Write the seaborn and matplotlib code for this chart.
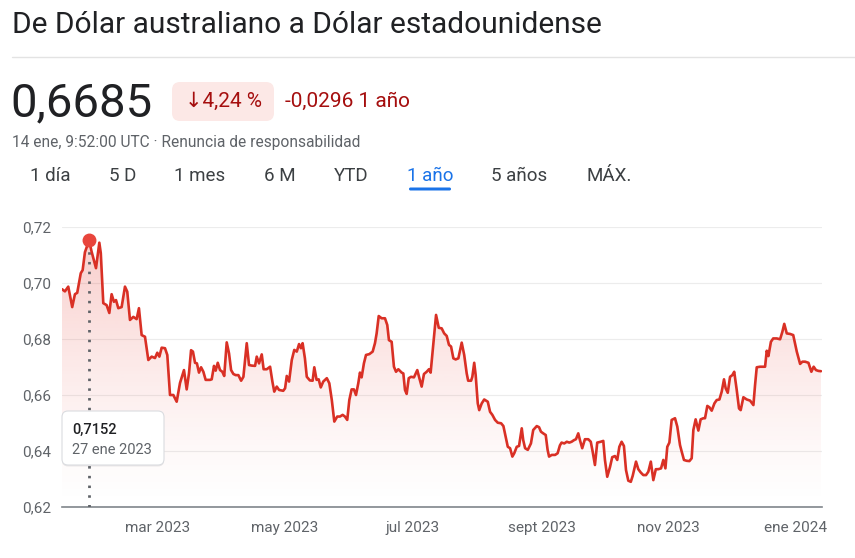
#Grafico AUD/USD 1 año estilo Google Finance
import numpy as np
import pandas as pd
import matplotlib
matplotlib.use('Agg')
import matplotlib.pyplot as plt
from matplotlib.patches import FancyBboxPatch
from matplotlib.lines import Line2D
from matplotlib.transforms import Affine2D
import seaborn as sns

#datos (dias desde el 14 ene 2023)
inicio = pd.Timestamp('2023-01-14')
dias = [0, 1.4, 3.0, 4.9, 6.2, 7.3, 9.0, 9.9, 11.0, 13.0, 14.2, 16.3, 17.9, 18.6, 19.8, 21.4,
        22.7, 23.8, 24.9, 25.9, 27.0, 28.6, 30.2, 31.3, 32.6, 34.2, 35.8, 36.9, 38.2, 39.8,
        41.4, 43.0, 44.6, 45.7, 46.7, 47.8, 49.4, 50.5, 51.8, 53.4, 55.0, 56.6, 58.5, 59.8,
        60.9, 61.9, 62.8, 63.8, 64.7, 65.7, 66.7, 67.8, 68.9, 71.0, 71.8, 72.9, 73.7, 74.7,
        75.8, 76.9, 77.8, 79.0, 80.1, 81.1, 82.2, 83.3, 84.6, 85.9, 87.0, 88.6, 89.7, 91.0,
        92.6, 93.4, 94.5, 95.8, 96.7, 98.2, 99.8, 100.9, 101.8, 103.0, 104.1, 106.1, 107.0,
        107.8, 108.9, 110.2, 111.4, 112.6, 113.7, 114.6, 115.4, 116.5, 117.4, 118.9, 120.2,
        121.0, 122.1, 123.1, 124.1, 125.3, 127.0, 128.2, 129.4, 130.6, 132.0, 133.3, 134.6,
        135.7, 136.8, 137.8, 138.9, 140.0, 141.0, 142.1, 142.9, 143.7, 144.8, 145.8, 147.4,
        149.0, 150.1, 150.9, 151.9, 153.3, 154.9, 156.0, 156.8, 158.1, 159.2, 160.2, 161.3,
        162.9, 163.7, 164.5, 165.3, 166.3, 167.4, 168.8, 170.4, 171.4, 172.5, 173.6, 174.9,
        176.0, 176.8, 178.1, 179.4, 180.7, 182.1, 183.3, 184.5, 185.6, 186.6, 187.7, 188.8,
        190.1, 191.7, 192.9, 194.1, 194.8, 196.2, 196.8, 197.7, 198.4, 199.4, 200.1, 201.3,
        202.5, 204.2, 205.3, 206.4, 207.7, 209.0, 210.6, 211.7, 212.8, 213.8, 214.9, 216.0,
        216.9, 218.1, 219.2, 220.5, 221.2, 222.1, 223.4, 224.9, 226.0, 227.7, 228.8, 229.7,
        230.8, 232.0, 232.9, 233.6, 234.9, 236.5, 237.7, 238.8, 239.6, 240.9, 242.1, 243.3,
        244.4, 245.6, 246.5, 247.6, 248.4, 249.5, 250.8, 252.4, 253.6, 254.5, 255.6, 256.7,
        258.4, 259.6, 260.4, 261.5, 262.8, 263.9, 265.2, 266.3, 267.3, 268.4, 269.5, 270.5,
        271.6, 272.8, 273.7, 275.3, 276.4, 277.6, 278.8, 280.1, 281.2, 282.4, 283.6, 284.8,
        286.0, 287.3, 288.4, 289.4, 290.3, 291.3, 292.4, 294.0, 295.1, 296.4, 297.2, 298.3,
        299.6, 300.9, 302.0, 302.8, 303.9, 305.2, 306.3, 307.6, 308.4, 309.5, 310.5, 311.6,
        312.9, 314.0, 315.3, 316.4, 317.5, 318.3, 319.3, 320.4, 321.5, 322.4, 323.6, 324.7,
        325.5, 326.8, 328.4, 330.0, 331.6, 332.4, 333.2, 334.8, 337.2, 338.0, 338.8, 340.0,
        341.1, 342.8, 344.4, 345.5, 346.4, 347.6, 349.2, 350.7, 352.4, 354.0, 355.1, 356.4,
        358.0, 359.4, 360.5, 361.6, 362.8, 364.0]
valores = [0.6978, 0.6970, 0.6987, 0.6914, 0.6960, 0.6965, 0.7035, 0.7046, 0.7110, 0.7152,
           0.7112, 0.7053, 0.7144, 0.7107, 0.6928, 0.6921, 0.6893, 0.6960, 0.6933, 0.6939,
           0.6910, 0.6914, 0.6987, 0.6969, 0.6868, 0.6879, 0.6871, 0.6910, 0.6814, 0.6808,
           0.6725, 0.6737, 0.6732, 0.6751, 0.6737, 0.6769, 0.6767, 0.6743, 0.6600, 0.6600,
           0.6576, 0.6643, 0.6689, 0.6620, 0.6677, 0.6760, 0.6755, 0.6715, 0.6713, 0.6680,
           0.6699, 0.6683, 0.6654, 0.6654, 0.6656, 0.6704, 0.6687, 0.6715, 0.6689, 0.6683,
           0.6668, 0.6788, 0.6749, 0.6689, 0.6675, 0.6671, 0.6671, 0.6651, 0.6665, 0.6785,
           0.6707, 0.6705, 0.6704, 0.6737, 0.6713, 0.6745, 0.6692, 0.6692, 0.6701, 0.6648,
           0.6612, 0.6630, 0.6618, 0.6615, 0.6624, 0.6668, 0.6648, 0.6725, 0.6761, 0.6755,
           0.6782, 0.6767, 0.6785, 0.6731, 0.6665, 0.6652, 0.6651, 0.6699, 0.6654, 0.6656,
           0.6627, 0.6648, 0.6660, 0.6642, 0.6582, 0.6505, 0.6523, 0.6523, 0.6529, 0.6523,
           0.6511, 0.6582, 0.6620, 0.6620, 0.6600, 0.6642, 0.6680, 0.6663, 0.6713, 0.6743,
           0.6746, 0.6755, 0.6785, 0.6820, 0.6882, 0.6874, 0.6874, 0.6850, 0.6796, 0.6790,
           0.6701, 0.6683, 0.6692, 0.6680, 0.6677, 0.6618, 0.6604, 0.6660, 0.6665, 0.6663,
           0.6689, 0.6660, 0.6630, 0.6675, 0.6683, 0.6692, 0.6680, 0.6785, 0.6886, 0.6840,
           0.6838, 0.6820, 0.6811, 0.6779, 0.6773, 0.6731, 0.6727, 0.6731, 0.6787, 0.6743,
           0.6677, 0.6651, 0.6651, 0.6665, 0.6715, 0.6671, 0.6570, 0.6546, 0.6570, 0.6584,
           0.6576, 0.6540, 0.6529, 0.6511, 0.6501, 0.6499, 0.6489, 0.6451, 0.6415, 0.6410,
           0.6380, 0.6392, 0.6415, 0.6418, 0.6481, 0.6439, 0.6410, 0.6404, 0.6427, 0.6475,
           0.6489, 0.6485, 0.6469, 0.6463, 0.6457, 0.6404, 0.6380, 0.6386, 0.6386, 0.6392,
           0.6420, 0.6430, 0.6427, 0.6433, 0.6430, 0.6433, 0.6439, 0.6442, 0.6463, 0.6439,
           0.6410, 0.6442, 0.6442, 0.6433, 0.6398, 0.6350, 0.6430, 0.6433, 0.6436, 0.6368,
           0.6308, 0.6342, 0.6378, 0.6382, 0.6368, 0.6415, 0.6433, 0.6418, 0.6332, 0.6294,
           0.6290, 0.6311, 0.6362, 0.6335, 0.6323, 0.6314, 0.6314, 0.6326, 0.6362, 0.6296,
           0.6335, 0.6335, 0.6338, 0.6368, 0.6338, 0.6415, 0.6430, 0.6511, 0.6517, 0.6487,
           0.6421, 0.6398, 0.6368, 0.6365, 0.6364, 0.6374, 0.6475, 0.6513, 0.6473, 0.6513,
           0.6517, 0.6517, 0.6561, 0.6556, 0.6544, 0.6570, 0.6582, 0.6584, 0.6612, 0.6656,
           0.6624, 0.6608, 0.6665, 0.6671, 0.6683, 0.6618, 0.6552, 0.6546, 0.6592, 0.6584,
           0.6580, 0.6564, 0.6636, 0.6699, 0.6701, 0.6701, 0.6758, 0.6739, 0.6790, 0.6802,
           0.6802, 0.6799, 0.6826, 0.6854, 0.6820, 0.6818, 0.6814, 0.6755, 0.6711, 0.6719,
           0.6719, 0.6715, 0.6683, 0.6701, 0.6689, 0.6686, 0.6685]

meses = ['2023-03-01', '2023-05-01', '2023-07-01', '2023-09-01', '2023-11-01', '2024-01-01']
etiquetas_meses = ['mar 2023', 'may 2023', 'jul 2023', 'sept 2023', 'nov 2023', 'ene 2024']
niveles = [0.62, 0.64, 0.66, 0.68, 0.70, 0.72]
etiquetas_niveles = ['0,62', '0,64', '0,66', '0,68', '0,70', '0,72']
pestanas = ['1 día', '5 D', '1 mes', '6 M', 'YTD', '1 año', '5 años', 'MÁX.']
pestana_activa = '1 año'

titulo = 'De Dólar australiano a Dólar estadounidense'
actual = '0,6685'
cambio_pct = '↓4,24 %'
cambio_abs = '-0,0296 1 año'
subtitulo = '14 ene, 9:52:00 UTC · Renuncia de responsabilidad'
pico_fecha = pd.Timestamp('2023-01-27')
pico_valor = 0.7152
pico_etiqueta = '27 ene 2023'

df = pd.DataFrame({'fecha': inicio + pd.to_timedelta(dias, unit='D'), 'valor': valores})

sns.set_style('white')
plt.rcParams['font.family'] = ['Roboto', 'DejaVu Sans']

rojo = '#d93025'
gris = '#5f6368'

fig = plt.figure(figsize=(8.55, 5.58), dpi=100)
#transformacion en pixeles con origen arriba a la izquierda
px = Affine2D().scale(1 / 855, -1 / 558).translate(0, 1) + fig.transFigure

ax = fig.add_axes([62 / 855, 51 / 558, 760 / 855, 280 / 558])
sns.lineplot(data=df, x='fecha', y='valor', ax=ax, color=rojo, linewidth=1.9, zorder=4)

x_min = inicio
x_max = inicio + pd.Timedelta(days=364.5)
ax.set_xlim(x_min, x_max)
ax.set_ylim(0.62, 0.72)

#relleno con degradado bajo la linea
relleno = ax.fill_between(df['fecha'], df['valor'], 0.62, color='none', linewidth=0)
n = 256
rgba = np.zeros((n, 1, 4))
rgba[..., :3] = matplotlib.colors.to_rgb('#e8453c')
rgba[:, 0, 3] = np.linspace(0, 1, n) ** 1.3 * 0.28
x0, x1 = ax.get_xlim()
img = ax.imshow(rgba, extent=[x0, x1, 0.62, 0.72], origin='lower', aspect='auto',
                zorder=2, interpolation='bilinear')
img.set_clip_path(relleno.get_paths()[0], transform=ax.transData)
ax.set_xlim(x_min, x_max)
ax.set_ylim(0.62, 0.72)

ax.set_yticks(niveles, etiquetas_niveles)
ax.set_xticks(pd.to_datetime(meses), etiquetas_meses)
ax.yaxis.grid(True, color='#ececec', linewidth=0.8)
ax.xaxis.grid(False)
ax.set_axisbelow(True)
for s in ['top', 'right', 'left']:
    ax.spines[s].set_visible(False)
ax.spines['bottom'].set_color('#80868b')
ax.spines['bottom'].set_linewidth(1.2)
ax.tick_params(axis='y', length=0, pad=8, labelsize=11, labelcolor=gris)
ax.tick_params(axis='x', length=5, width=1.8, color='#80868b', direction='out',
               pad=5, labelsize=11, labelcolor=gris)
ax.set_xlabel('')
ax.set_ylabel('')
ax.set_facecolor('white')

#punto maximo y linea punteada
ax.plot([pico_fecha, pico_fecha], [0.62, pico_valor], color=gris, linewidth=2,
        linestyle=(0, (0.9, 2.6)), zorder=3)
ax.plot(pico_fecha, pico_valor, 'o', color='#e8453c', markersize=9, zorder=5, clip_on=False)

#tooltip
sombra = FancyBboxPatch((62, 412.5), 102, 54, boxstyle='round,pad=0,rounding_size=6',
                        transform=px, fc='black', ec='none', alpha=0.08)
caja = FancyBboxPatch((62, 411), 102, 54, boxstyle='round,pad=0,rounding_size=6',
                      transform=px, fc='white', ec='#dadce0', lw=0.8)
fig.add_artist(sombra)
fig.add_artist(caja)
fig.text(72, 430, f'{pico_valor:.4f}'.replace('.', ','), transform=px, va='center',
         fontsize=10.5, color='#202124', fontweight='medium', zorder=5)
fig.text(72, 450, pico_etiqueta, transform=px, va='center', fontsize=10.5, color=gris, zorder=5)

#cabecera
fig.text(12, 25, titulo, transform=px, va='center', fontsize=21.5, color='#202124')
fig.add_artist(Line2D([12, 855], [57, 57], transform=px, color='#e3e3e3', lw=1))
fig.text(10, 103, actual, transform=px, va='center', fontsize=34, color='#202124')
fig.add_artist(FancyBboxPatch((172, 82), 102, 39, boxstyle='round,pad=0,rounding_size=8',
                              transform=px, fc='#fce8e6', ec='none'))
fig.text(223, 101, cambio_pct, transform=px, ha='center', va='center', fontsize=15,
         color='#a50e0e')
fig.text(285, 101, cambio_abs, transform=px, va='center', fontsize=15, color='#a50e0e')
fig.text(12, 142, subtitulo, transform=px, va='center', fontsize=11.2, color=gris)

centros = [50.5, 123, 200, 279.5, 351, 430, 519.5, 609.5]
for nombre, cx in zip(pestanas, centros):
    color = '#1a73e8' if nombre == pestana_activa else '#3c4043'
    fig.text(cx, 176, nombre, transform=px, ha='center', va='center', fontsize=13.5, color=color)
    if nombre == pestana_activa:
        fig.add_artist(FancyBboxPatch((cx - 21, 187.5), 42, 3,
                                      boxstyle='round,pad=0,rounding_size=1.5',
                                      transform=px, fc='#1a73e8', ec='none'))

fig.savefig('out.png', dpi=100)
